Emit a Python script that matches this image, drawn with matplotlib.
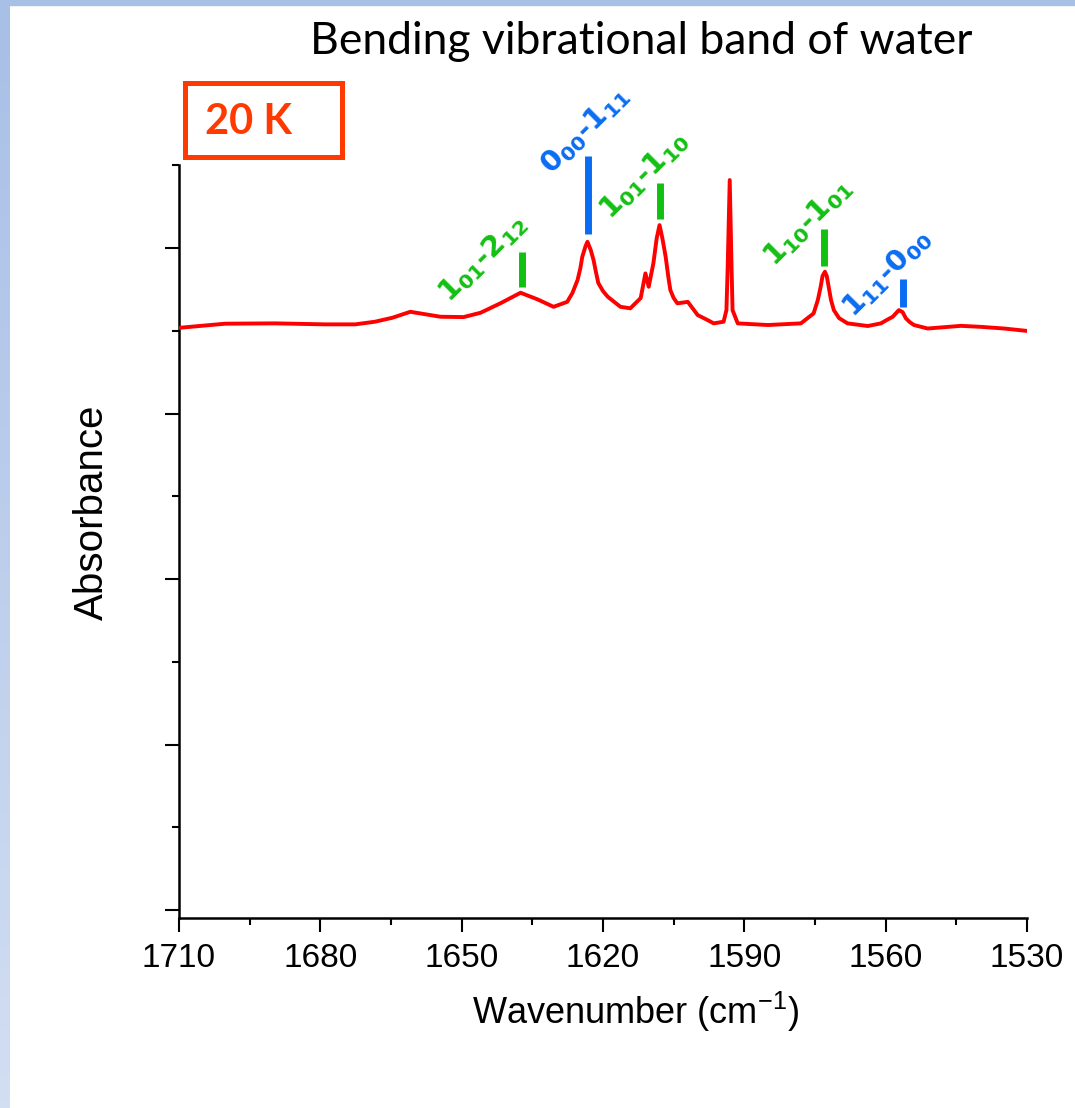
import numpy as np
import matplotlib
matplotlib.use("Agg")
import matplotlib.pyplot as plt
import matplotlib.ticker as mticker
from matplotlib.patches import Rectangle
from matplotlib.colors import LinearSegmentedColormap

# Spectrum (wavenumber in cm-1, absorbance in arb. units)
wavenumber = [1710.0, 1700.2, 1689.6, 1679.0, 1672.6, 1668.4, 1664.7, 1660.9,
              1654.5, 1649.6, 1646.0, 1641.8, 1637.5, 1633.9, 1630.5, 1627.6,
              1626.5, 1625.4, 1624.8, 1624.4, 1623.7, 1623.3, 1622.6, 1622.0,
              1621.5, 1621.0, 1620.0, 1619.0, 1616.3, 1614.2, 1612.0, 1611.0,
              1610.3, 1609.3, 1608.6, 1608.0, 1607.4, 1606.7, 1606.1, 1605.7,
              1605.0, 1604.2, 1602.0, 1599.9, 1597.8, 1596.5, 1594.4, 1593.8,
              1593.55, 1593.1, 1592.7, 1592.5, 1591.4, 1585.0, 1578.0, 1575.3,
              1574.4, 1573.8, 1573.4, 1572.9, 1572.5, 1572.1, 1571.6, 1571.0,
              1569.9, 1568.1, 1563.8, 1561.0, 1559.8, 1558.5, 1557.2, 1556.4,
              1555.7, 1554.9, 1554.0, 1551.1, 1544.0, 1539.8, 1534.9, 1530.2]
absorbance = [0.3518, 0.3543, 0.3545, 0.3539, 0.3539, 0.3555, 0.3579, 0.3615,
              0.3585, 0.3583, 0.3609, 0.3666, 0.3730, 0.3690, 0.3645, 0.3675,
              0.3728, 0.3807, 0.3879, 0.3947, 0.4012, 0.4038, 0.3988, 0.3927,
              0.3855, 0.3789, 0.3740, 0.3706, 0.3645, 0.3636, 0.3698, 0.3847,
              0.3766, 0.3909, 0.4060, 0.4139, 0.4060, 0.3947, 0.3819, 0.3746,
              0.3698, 0.3666, 0.3675, 0.3595, 0.3565, 0.3545, 0.3555, 0.3625,
              0.3867, 0.4411, 0.3867, 0.3625, 0.3545, 0.3535, 0.3545, 0.3605,
              0.3686, 0.3766, 0.3831, 0.3857, 0.3831, 0.3766, 0.3686, 0.3625,
              0.3577, 0.3545, 0.3529, 0.3545, 0.3565, 0.3585, 0.3625, 0.3613,
              0.3575, 0.3553, 0.3535, 0.3514, 0.3530, 0.3524, 0.3514, 0.3500]

# Rotational-vibrational assignments
band_labels = [r"$\mathbf{1_{01}}$-$\mathbf{2_{12}}$",
               r"$\mathbf{0_{00}}$-$\mathbf{1_{11}}$",
               r"$\mathbf{1_{01}}$-$\mathbf{1_{10}}$",
               r"$\mathbf{1_{10}}$-$\mathbf{1_{01}}$",
               r"$\mathbf{1_{11}}$-$\mathbf{0_{00}}$"]
band_centres = [1637.2, 1623.2, 1608.0, 1573.1, 1556.4]
bar_low = [0.3766, 0.4083, 0.4173, 0.3893, 0.3645]
bar_high = [0.3978, 0.4556, 0.4395, 0.4115, 0.3816]
band_kind = ["ortho", "para", "ortho", "ortho", "para"]

# label anchor positions (layout)
label_x = [1645.6, 1623.9, 1611.4, 1576.6, 1559.8]
label_y = [0.394, 0.4713, 0.4441, 0.4157, 0.3849]

_RED = "#FF0000"
_GREEN = "#12C012"
_BLUE = "#0A6CF2"
_ORANGE = "#FF3A00"
kind_colour = {"ortho": _GREEN, "para": _BLUE}

narrow = ["Liberation Sans", "DejaVu Sans"]

fig = plt.figure(figsize=(10.75, 11.08), dpi=100)
fig.patch.set_facecolor("white")

# slide background strips
grad = LinearSegmentedColormap.from_list("slide", ["#A8BFE6", "#D2DEF2"])
bg = fig.add_axes([0, 0, 10 / 1075, 1])
bg.imshow(np.linspace(0, 1, 200).reshape(-1, 1), cmap=grad, aspect="auto")
bg.axis("off")
fig.patches.append(Rectangle((0, 1 - 5 / 1108), 1, 5 / 1108,
                             transform=fig.transFigure, color="#A8BFE6",
                             zorder=0))

ax = fig.add_axes([179 / 1075, 1 - 918 / 1108, 848 / 1075, 753 / 1108])
ax.plot(wavenumber, absorbance, color=_RED, linewidth=2.8, zorder=3,
        solid_joinstyle="round")

for lab, c, lo, hi, kind, lx, ly in zip(band_labels, band_centres, bar_low,
                                         bar_high, band_kind, label_x, label_y):
    col = kind_colour[kind]
    ax.plot([c, c], [lo, hi], color=col, linewidth=5, solid_capstyle="butt",
            clip_on=False, zorder=4)
    ax.text(lx, ly, lab, color=col, fontsize=21, fontweight="bold",
            rotation=45, rotation_mode="anchor", ha="center", va="center",
            family="DejaVu Sans")

ax.set_xlim(1710, 1530)
ax.set_ylim(-0.00483, 0.4502)
ax.xaxis.set_major_locator(mticker.MultipleLocator(30))
ax.xaxis.set_minor_locator(mticker.MultipleLocator(15))
ax.yaxis.set_major_locator(mticker.MultipleLocator(0.1))
ax.yaxis.set_minor_locator(mticker.MultipleLocator(0.05))
ax.set_yticklabels([])
for s in ("top", "right"):
    ax.spines[s].set_visible(False)
for s in ("left", "bottom"):
    ax.spines[s].set_linewidth(1.8)
ax.tick_params(which="major", direction="out", length=10, width=1.5)
ax.tick_params(which="minor", direction="out", length=5, width=1.5)
ax.tick_params(axis="x", which="major", pad=8)
for t in ax.get_xticklabels():
    t.set_family(narrow)
    t.set_fontsize(24)

ax.set_xlabel(r"Wavenumber (cm$^{\mathregular{-1}}$)", family=narrow,
              fontsize=26)
ax.xaxis.set_label_coords(0.538, -0.095)
ax.set_ylabel("Absorbance", family=narrow, fontsize=29)
ax.yaxis.set_label_coords(-0.08, 0.539)

fig.text(641 / 1075, 1 - 41 / 1108, "Bending vibrational band of water",
         ha="center", va="center", fontsize=32, family="Lato")

fig.patches.append(Rectangle((185 / 1075, 1 - 157 / 1108), 157 / 1075,
                             74 / 1108, transform=fig.transFigure,
                             fill=False, edgecolor=_ORANGE, linewidth=3.6))
fig.text(205 / 1075, 1 - 122 / 1108, "20 K", ha="left", va="center",
         fontsize=30, fontweight="bold", color=_ORANGE, family="Lato")

fig.savefig("out.png", dpi=100)
